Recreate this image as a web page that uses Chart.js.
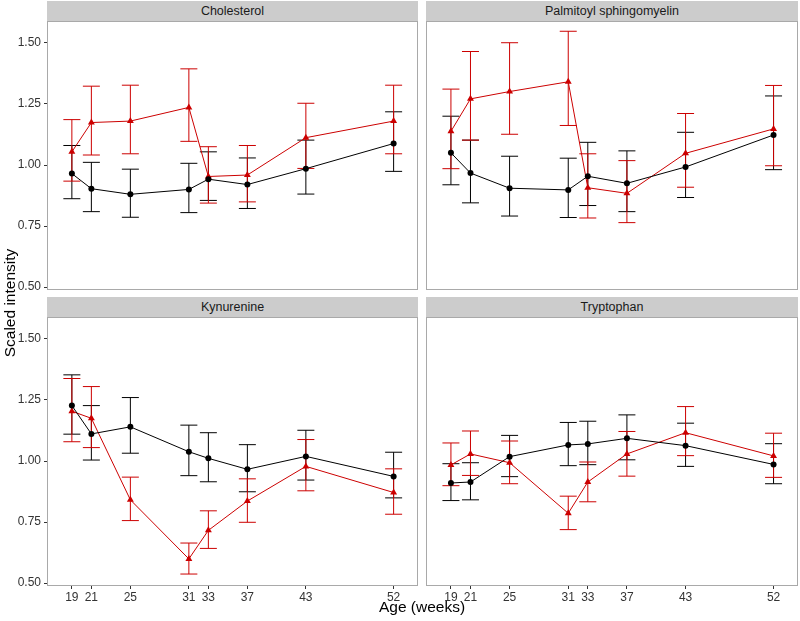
<!DOCTYPE html>
<html>
<head>
<meta charset="utf-8">
<script src="https://cdn.jsdelivr.net/npm/chart.js@4.4.1/dist/chart.umd.min.js"></script>
<style>
    body { margin: 0; background: #fff; font-family: "Liberation Sans", Arial, sans-serif; }
    #wrap { position: relative; width: 800px; height: 621px; overflow: hidden; }
    canvas { position: absolute; }
    .strip {
        position: absolute; height: 20px; line-height: 20px; background: #cccccc;
        text-align: center; font-size: 12.5px; color: #1a1a1a;
    }
    .axis-title { position: absolute; font-size: 15.5px; color: #000; text-align: center; }
</style>
</head>
<body>
<div id="wrap">
    <div class="strip" style="left:47px; top:1px; width:371px;">Cholesterol</div>
    <div class="strip" style="left:426px; top:1px; width:372px;">Palmitoyl sphingomyelin</div>
    <div class="strip" style="left:47px; top:297px; width:371px;">Kynurenine</div>
    <div class="strip" style="left:426px; top:297px; width:372px;">Tryptophan</div>

    <canvas id="cCholesterol" width="418" height="269" style="left:0; top:21px;"></canvas>
    <canvas id="cPalmitoyl" width="372" height="269" style="left:426px; top:21px;"></canvas>
    <canvas id="cKynurenine" width="418" height="289" style="left:0; top:317px;"></canvas>
    <canvas id="cTryptophan" width="372" height="289" style="left:426px; top:317px;"></canvas>

    <div class="axis-title" style="left:-140px; top:293px; width:300px; height:20px; line-height:20px; transform:rotate(-90deg);">Scaled intensity</div>
    <div class="axis-title" style="left:272px; top:597px; width:300px; height:20px; line-height:20px;">Age (weeks)</div>
</div>
<script>
// ---- data ----
const weeks = [19, 21, 25, 31, 33, 37, 43, 52];
const yTicks = [0.5, 0.75, 1.0, 1.25, 1.5];

// Cholesterol
const cholBlack   = [0.965, 0.903, 0.880, 0.900, 0.942, 0.920, 0.985, 1.088];
const cholBlackLo = [0.862, 0.809, 0.786, 0.805, 0.855, 0.822, 0.881, 0.974];
const cholBlackHi = [1.080, 1.011, 0.983, 1.007, 1.054, 1.029, 1.102, 1.218];
const cholRed     = [1.054, 1.174, 1.180, 1.236, 0.953, 0.959, 1.112, 1.180];
const cholRedLo   = [0.934, 1.041, 1.046, 1.097, 0.844, 0.849, 0.986, 1.046];
const cholRedHi   = [1.186, 1.323, 1.327, 1.394, 1.075, 1.080, 1.253, 1.327];

// Palmitoyl sphingomyelin
const psmBlack   = [1.050, 0.967, 0.905, 0.898, 0.954, 0.925, 0.992, 1.123];
const psmBlackLo = [0.919, 0.845, 0.791, 0.785, 0.834, 0.809, 0.867, 0.981];
const psmBlackHi = [1.200, 1.102, 1.036, 1.028, 1.093, 1.058, 1.134, 1.283];
const psmRed     = [1.138, 1.271, 1.301, 1.341, 0.907, 0.884, 1.048, 1.148];
const psmRedLo   = [0.985, 1.102, 1.126, 1.162, 0.783, 0.764, 0.909, 0.997];
const psmRedHi   = [1.311, 1.465, 1.501, 1.548, 1.046, 1.018, 1.211, 1.326];

// Kynurenine
const kynBlack   = [1.227, 1.111, 1.140, 1.038, 1.011, 0.966, 1.019, 0.937];
const kynBlackLo = [1.110, 1.004, 1.032, 0.940, 0.915, 0.874, 0.922, 0.849];
const kynBlackHi = [1.353, 1.227, 1.260, 1.147, 1.116, 1.067, 1.126, 1.036];
const kynRed     = [1.204, 1.175, 0.841, 0.599, 0.716, 0.836, 0.978, 0.871];
const kynRedLo   = [1.079, 1.055, 0.756, 0.537, 0.642, 0.749, 0.878, 0.782];
const kynRedHi   = [1.338, 1.305, 0.934, 0.664, 0.796, 0.927, 1.088, 0.968];

// Tryptophan
const trpBlack   = [0.910, 0.914, 1.018, 1.066, 1.070, 1.093, 1.063, 0.986];
const trpBlackLo = [0.838, 0.841, 0.936, 0.981, 0.985, 1.005, 0.978, 0.907];
const trpBlackHi = [0.989, 0.993, 1.105, 1.158, 1.163, 1.189, 1.155, 1.071];
const trpRed     = [0.984, 1.029, 0.993, 0.786, 0.914, 1.029, 1.116, 1.021];
const trpRedLo   = [0.899, 0.941, 0.907, 0.719, 0.833, 0.938, 1.022, 0.933];
const trpRedHi   = [1.074, 1.123, 1.082, 0.856, 0.996, 1.121, 1.223, 1.114];

const RED = '#cc0000';
const BLACK = '#000000';

// error bars drawn with the chart's own scales
const errorBarPlugin = {
    id: 'errorBars',
    beforeDatasetsDraw(chart) {
        const { ctx, scales } = chart;
        const half = 8.5;
        ctx.save();
        ctx.lineWidth = 1;
        chart.data.datasets.forEach(ds => {
            ctx.strokeStyle = ds.borderColor;
            ds.data.forEach((pt, i) => {
                const x = scales.x.getPixelForValue(pt.x);
                const yLo = scales.y.getPixelForValue(ds.lo[i]);
                const yHi = scales.y.getPixelForValue(ds.hi[i]);
                ctx.beginPath();
                ctx.moveTo(x, yLo); ctx.lineTo(x, yHi);
                ctx.moveTo(x - half, yLo); ctx.lineTo(x + half, yLo);
                ctx.moveTo(x - half, yHi); ctx.lineTo(x + half, yHi);
                ctx.stroke();
            });
        });
        ctx.restore();
    }
};

const panelBorder = {
    id: 'panelBorder',
    afterDraw(chart) {
        const { ctx, chartArea: a } = chart;
        ctx.save();
        ctx.strokeStyle = '#a9a9a9';
        ctx.lineWidth = 1;
        ctx.strokeRect(a.left + 0.5, a.top + 0.5, a.right - a.left - 1, a.bottom - a.top - 1);
        ctx.restore();
    }
};

function toPoints(vals) {
    return weeks.map((w, i) => ({ x: w, y: vals[i] }));
}

function noPad(s) {
    s.paddingTop = 0; s.paddingBottom = 0; s.paddingLeft = 0; s.paddingRight = 0;
}

function makePanel(id, black, blackLo, blackHi, red, redLo, redHi, showX, showY) {
    new Chart(document.getElementById(id), {
        type: 'line',
        data: {
            datasets: [
                {
                    data: toPoints(black), lo: blackLo, hi: blackHi,
                    borderColor: BLACK, backgroundColor: BLACK, borderWidth: 1,
                    pointStyle: 'circle', pointRadius: 3, pointBorderWidth: 0,
                    tension: 0
                },
                {
                    data: toPoints(red), lo: redLo, hi: redHi,
                    borderColor: RED, backgroundColor: RED, borderWidth: 1,
                    pointStyle: 'triangle', pointRadius: 4, pointBorderWidth: 0,
                    tension: 0
                }
            ]
        },
        options: {
            responsive: false,
            animation: false,
            layout: { padding: 0, autoPadding: false },
            plugins: { legend: { display: false }, tooltip: { enabled: false } },
            scales: {
                x: {
                    type: 'linear',
                    min: 16.45,
                    max: 54.5,
                    display: showX,
                    afterBuildTicks: ax => { ax.ticks = weeks.map(v => ({ value: v })); },
                    afterFit: s => { noPad(s); if (showX) s.height = 20; },
                    grid: { drawOnChartArea: false, tickLength: 3, color: '#333' },
                    border: { display: false },
                    ticks: {
                        color: '#333', padding: 1, autoSkip: false, maxRotation: 0,
                        font: { family: 'Liberation Sans', size: 12 }
                    }
                },
                y: {
                    min: 0.488,
                    max: 1.59,
                    display: showY,
                    afterBuildTicks: ax => { ax.ticks = yTicks.map(v => ({ value: v })); },
                    afterFit: s => { noPad(s); if (showY) s.width = 47; },
                    grid: { drawOnChartArea: false, tickLength: 3, color: '#333' },
                    border: { display: false },
                    ticks: {
                        color: '#333', padding: 3,
                        font: { family: 'Liberation Sans', size: 12 },
                        callback: v => v.toFixed(2)
                    }
                }
            }
        },
        plugins: [errorBarPlugin, panelBorder]
    });
}

makePanel('cCholesterol', cholBlack, cholBlackLo, cholBlackHi, cholRed, cholRedLo, cholRedHi, false, true);
makePanel('cPalmitoyl', psmBlack, psmBlackLo, psmBlackHi, psmRed, psmRedLo, psmRedHi, false, false);
makePanel('cKynurenine', kynBlack, kynBlackLo, kynBlackHi, kynRed, kynRedLo, kynRedHi, true, true);
makePanel('cTryptophan', trpBlack, trpBlackLo, trpBlackHi, trpRed, trpRedLo, trpRedHi, true, false);
</script>
</body>
</html>
